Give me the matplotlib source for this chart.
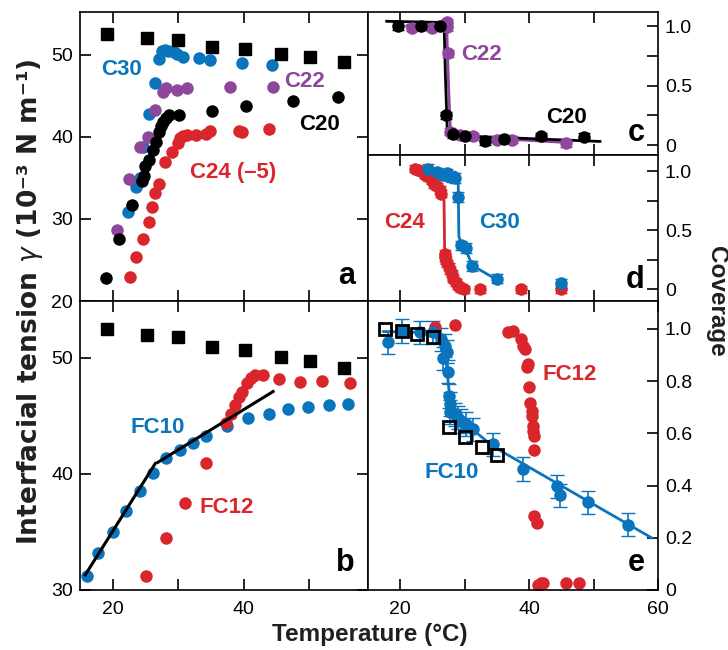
import numpy as np
import matplotlib.pyplot as plt

plt.rcParams['font.family'] = ['Liberation Sans', 'DejaVu Sans']

BLUE = '#0A74BC'
RED = '#D8262C'
PURPLE = '#8E479C'

# ---- panel a / b : interfacial tension vs temperature ----
# clean interface (black squares, same in a and b)
sq_t = [19.2, 25.2, 29.9, 35.2, 40.2, 45.7, 50.1, 55.4]
sq_g = [52.5, 52.0, 51.8, 50.9, 50.7, 50.1, 49.7, 49.1]

c30_t = [22.4, 23.5, 24.1, 24.6, 25.5, 26.4, 27.0, 27.5, 28.0, 28.5, 29.3, 29.8, 30.7, 33.2, 34.8, 39.7, 44.3]
c30_g = [30.8, 33.9, 35.0, 38.8, 42.8, 46.6, 49.5, 50.4, 50.6, 50.4, 50.3, 50.1, 49.7, 49.6, 49.3, 49.0, 48.8]

c22_t = [20.6, 22.5, 24.2, 25.4, 26.5, 27.7, 28.1, 29.8, 31.4, 37.9, 44.5]
c22_g = [28.7, 34.8, 38.8, 40.0, 43.3, 45.4, 45.9, 45.7, 46.0, 46.1, 46.1]

c20_t = [19.0, 21.0, 23.0, 24.4, 24.8, 25.0, 25.5, 26.2, 26.6, 27.1, 27.4, 27.7, 28.1, 28.6, 30.1, 35.2, 40.3, 47.5, 54.4]
c20_g = [22.8, 27.5, 31.7, 34.6, 35.2, 36.5, 37.2, 38.4, 39.4, 40.6, 41.3, 41.8, 42.3, 42.6, 42.7, 43.1, 43.8, 44.4, 44.9]

c24_t = [22.6, 23.5, 24.6, 25.5, 26.0, 26.5, 27.0, 28.0, 29.1, 30.0, 30.3, 30.7, 31.4, 32.7, 34.3, 34.8, 39.3, 39.7, 43.9]
c24_g = [22.9, 25.3, 27.6, 29.6, 31.5, 33.1, 34.2, 36.9, 38.2, 39.2, 39.9, 40.1, 40.2, 40.2, 40.4, 40.7, 40.7, 40.6, 40.9]

fc10_t = [16.1, 17.8, 20.1, 22.1, 24.2, 26.1, 28.2, 30.3, 32.3, 34.3, 37.5, 40.7, 43.8, 46.8, 49.9, 53.1, 56.0]
fc10_g = [31.2, 33.2, 35.0, 36.8, 38.5, 40.1, 41.4, 42.1, 42.7, 43.3, 44.1, 44.8, 45.2, 45.6, 45.8, 45.9, 46.0]

fc12_t = [25.1, 28.2, 31.0, 34.3, 37.3, 38.0, 38.7, 39.3, 39.8, 40.5, 41.1, 41.7, 43.0, 45.4, 48.6, 51.9, 56.3]
fc12_g = [31.2, 34.5, 37.5, 40.9, 44.4, 45.2, 45.9, 46.6, 47.1, 47.8, 48.3, 48.5, 48.5, 48.2, 47.9, 48.0, 47.8]

# two linear fits through FC10
fit1_t = [15.8, 26.5]
fit1_g = [31.3, 40.9]
fit2_t = [26.9, 44.5]
fit2_g = [41.0, 47.1]

# ---- panel c / d / e : coverage ----
c20c_t = [19.6, 23.2, 26.2, 27.1, 28.2, 30.0, 33.1, 36.1, 41.9, 48.5]
c20c_f = [1.0, 1.0, 1.0, 0.25, 0.09, 0.075, 0.03, 0.05, 0.075, 0.07]
c20fit_t = [17.9, 26.8, 27.0, 27.3, 28.0, 51.0]
c20fit_f = [1.04, 1.03, 0.6, 0.12, 0.08, 0.03]

c22c_t = [21.8, 24.9, 26.9, 27.2, 27.3, 27.4, 27.7, 29.3, 31.3, 35.0, 37.3, 45.8]
c22c_f = [0.985, 0.985, 1.0, 1.03, 0.99, 0.77, 0.11, 0.08, 0.075, 0.045, 0.045, 0.015]
c22fit_t = [21.0, 27.2, 27.5, 27.8, 30.0, 46.0]
c22fit_f = [1.0, 1.02, 0.5, 0.1, 0.07, 0.02]

c24c_t = [22.3, 22.8, 23.3, 23.9, 24.4, 24.9, 25.3, 25.7, 26.1, 26.4, 26.9, 27.0, 27.1, 27.3,
          27.5, 27.7, 28.0, 28.2, 28.6, 29.0, 29.5, 29.9, 32.4, 38.8, 45.0]
c24c_f = [1.02, 1.01, 1.0, 0.97, 0.95, 0.92, 0.89, 0.87, 0.84, 0.81, 0.3, 0.27, 0.24, 0.22,
          0.19, 0.16, 0.13, 0.09, 0.06, 0.03, 0.01, 0.0, 0.0, 0.0, 0.0]
c24fit_t = [22.3, 26.5, 26.8, 26.9, 27.5, 28.5, 29.9]
c24fit_f = [1.05, 0.79, 0.75, 0.28, 0.19, 0.07, 0.0]

c30c_t = [24.3, 25.7, 26.7, 27.2, 27.7, 28.1, 28.5, 29.0, 29.5, 30.2, 31.2, 35.0, 45.0]
c30c_f = [1.02, 0.99, 0.97, 0.98, 0.96, 0.95, 0.94, 0.78, 0.37, 0.35, 0.195, 0.09, 0.05]
c30fit_t = [24.2, 28.5, 29.0, 29.1, 29.5, 30.2, 31.2, 35.0]
c30fit_f = [1.03, 0.95, 0.9, 0.45, 0.37, 0.33, 0.2, 0.08]

fc10c_t = [18.1, 20.2, 23.1, 25.1, 26.4, 26.9, 27.3, 26.7, 27.4, 27.6, 27.7, 27.7, 28.5, 29.0,
           29.5, 30.2, 31.3, 34.4, 39.1, 44.3, 44.8, 49.2, 55.4]
fc10c_f = [0.949, 0.993, 0.987, 0.987, 0.96, 0.936, 0.913, 0.887, 0.836, 0.744, 0.712, 0.682, 0.673, 0.66,
           0.648, 0.635, 0.615, 0.558, 0.464, 0.397, 0.362, 0.336, 0.25]
fc10fit_t = [17.5, 25.5, 26.4, 27.0, 27.5, 28.0, 29.5, 34.4, 59.0]
fc10fit_f = [0.99, 0.985, 0.96, 0.91, 0.78, 0.69, 0.65, 0.55, 0.2]

sq_e_t = [17.6, 20.2, 22.6, 25.1, 27.6, 30.1, 32.7, 35.0]
sq_e_f = [1.0, 0.993, 0.981, 0.971, 0.624, 0.587, 0.549, 0.517]

fc12c_t = [25.4, 28.5, 36.8, 37.5, 38.8, 39.1, 39.4, 39.6, 39.9, 40.0, 40.1, 40.4, 40.5, 40.6, 40.6,
           40.7, 40.7, 40.7, 41.2, 41.4, 41.9, 42.2, 45.8, 47.8]
fc12c_f = [1.009, 1.015, 0.99, 0.994, 0.962, 0.933, 0.923, 0.853, 0.865, 0.776, 0.715, 0.686, 0.667, 0.628, 0.609,
           0.59, 0.536, 0.282, 0.256, 0.019, 0.026, 0.028, 0.028, 0.028]

W, H = 728, 650
fig = plt.figure(figsize=(W / 100, H / 100), dpi=100)


def box(x0, y0, x1, y1):
    return [x0 / W, 1 - y1 / H, (x1 - x0) / W, (y1 - y0) / H]


ax_a = fig.add_axes(box(80, 12, 368, 301))
ax_b = fig.add_axes(box(80, 301, 368, 590))
ax_c = fig.add_axes(box(368, 12, 658, 155))
ax_d = fig.add_axes(box(368, 155, 658, 301))
ax_e = fig.add_axes(box(368, 301, 658, 590))

TICK_FS = 14
LAB_FS = 16
MS = 9


def style(ax, right=False):
    for s in ax.spines.values():
        s.set_linewidth(1.2)
    ax.tick_params(direction='in', length=8, width=1.2, labelsize=TICK_FS,
                   top=True, bottom=True, left=not right, right=True,
                   labelleft=not right, labelright=right, labelbottom=False, pad=5)


def squares(ax):
    ax.errorbar(sq_t, sq_g, xerr=0.9, fmt='s', color='black', ms=MS, ecolor=BLUE,
                elinewidth=1, capsize=0, zorder=5)


def label(ax, x, y, s, color):
    ax.text(x, y, s, color=color, fontsize=LAB_FS, fontweight='bold',
            ha='center', va='center', transform=ax.transAxes)


def letter(ax, s, y=0.04):
    ax.text(0.955, y, s, fontsize=22, fontweight='bold', ha='right', va='bottom',
            transform=ax.transAxes)


# panel a
ax = ax_a
style(ax)
squares(ax)
ax.plot(c30_t, c30_g, 'o', color=BLUE, ms=MS, mec='none')
ax.plot(c22_t, c22_g, 'o', color=PURPLE, ms=MS, mec='none')
ax.plot(c20_t, c20_g, 'o', color='black', ms=MS, mec='none')
ax.plot(c24_t, c24_g, 'o', color=RED, ms=MS, mec='none')
ax.set_xlim(15, 59)
ax.set_ylim(20, 55.2)
ax.set_xticks([20, 30, 40, 50])
ax.set_yticks([20, 30, 40, 50])
label(ax, 0.145, 0.80, 'C30', BLUE)
label(ax, 0.78, 0.76, 'C22', PURPLE)
label(ax, 0.83, 0.61, 'C20', 'black')
label(ax, 0.53, 0.445, 'C24 (–5)', RED)
letter(ax, 'a', 0.035)

# panel b
ax = ax_b
style(ax)
ax.tick_params(axis='x', labelbottom=True, pad=8)
squares(ax)
ax.plot(fc10_t, fc10_g, 'o', color=BLUE, ms=MS, mec='none')
ax.plot(fc12_t, fc12_g, 'o', color=RED, ms=MS, mec='none')
ax.plot(fit1_t, fit1_g, '-', color='black', lw=2.2)
ax.plot(fit2_t, fit2_g, '-', color='black', lw=2.2)
ax.set_xlim(15, 59)
ax.set_ylim(30, 54.9)
ax.set_xticks([20, 30, 40, 50])
ax.set_xticklabels(['20', '', '40', ''])
ax.set_yticks([30, 40, 50])
label(ax, 0.27, 0.564, 'FC10', BLUE)
label(ax, 0.51, 0.287, 'FC12', RED)
letter(ax, 'b')

# panel c
ax = ax_c
style(ax, right=True)
ax.plot(c22fit_t, c22fit_f, '-', color=PURPLE, lw=2)
ax.plot(c20fit_t, c20fit_f, '-', color='black', lw=2)
ax.errorbar(c22c_t, c22c_f, yerr=0.03, fmt='o', color=PURPLE, ms=MS, mec='none', capsize=4, elinewidth=1.2)
ax.errorbar(c20c_t, c20c_f, yerr=0.03, fmt='o', color='black', ms=MS, mec='none', capsize=4, elinewidth=1.2)
ax.set_xlim(15, 60)
ax.set_ylim(-0.084, 1.118)
ax.set_xticks([20, 30, 40, 50])
ax.set_yticks([0, 0.25, 0.5, 0.75, 1.0])
ax.set_yticklabels(['0', '', '0.5', '', '1.0'])
label(ax, 0.39, 0.70, 'C22', PURPLE)
label(ax, 0.683, 0.26, 'C20', 'black')
letter(ax, 'c', 0.05)

# panel d
ax = ax_d
style(ax, right=True)
ax.plot(c24fit_t, c24fit_f, '-', color=RED, lw=2)
ax.plot(c30fit_t, c30fit_f, '-', color=BLUE, lw=2)
ax.errorbar(c24c_t, c24c_f, yerr=0.03, fmt='o', color=RED, ms=MS, mec='none', capsize=4, elinewidth=1.2)
ax.errorbar(c30c_t, c30c_f, yerr=0.04, fmt='o', color=BLUE, ms=MS, mec='none', capsize=4, elinewidth=1.2)
ax.set_xlim(15, 60)
ax.set_ylim(-0.10, 1.136)
ax.set_xticks([20, 30, 40, 50])
ax.set_yticks([0, 0.25, 0.5, 0.75, 1.0])
ax.set_yticklabels(['0', '', '0.5', '', '1.0'])
label(ax, 0.125, 0.54, 'C24', RED)
label(ax, 0.455, 0.54, 'C30', BLUE)
letter(ax, 'd')

# panel e
ax = ax_e
style(ax, right=True)
ax.tick_params(axis='x', labelbottom=True, pad=8)
ax.plot(fc10fit_t, fc10fit_f, '-', color=BLUE, lw=2)
ax.errorbar(fc10c_t, fc10c_f, yerr=0.045, fmt='o', color=BLUE, ms=MS, mec='none', capsize=5, elinewidth=1.2)
ax.plot(fc12c_t, fc12c_f, 'o', color=RED, ms=MS, mec='none')
ax.plot(sq_e_t, sq_e_f, 's', color='black', mfc='none', mew=2, ms=MS, zorder=5)
ax.set_xlim(15, 60)
ax.set_ylim(0, 1.107)
ax.set_xticks([20, 30, 40, 50, 60])
ax.set_xticklabels(['20', '', '40', '', '60'])
ax.set_yticks([0, 0.2, 0.4, 0.6, 0.8, 1.0])
ax.set_yticklabels(['0', '0.2', '0.4', '0.6', '0.8', '1.0'])
label(ax, 0.695, 0.745, 'FC12', RED)
label(ax, 0.29, 0.405, 'FC10', BLUE)
letter(ax, 'e')

fig.text(30 / W, 0.535, r'Interfacial tension $\gamma$ (10⁻³ N m⁻¹)', rotation=90, fontsize=19,
         fontweight='bold', family='DejaVu Sans', ha='center', va='center', color='#231F20')
fig.text(370 / W, 1 - 635 / H, 'Temperature (°C)', fontsize=17.5, fontweight='bold',
         ha='center', va='center', color='#231F20')
fig.text(717 / W, 1 - 301 / H, 'Coverage', rotation=270, fontsize=17.5, fontweight='bold',
         ha='center', va='center', color='#231F20')

fig.savefig('out.png', dpi=100)
